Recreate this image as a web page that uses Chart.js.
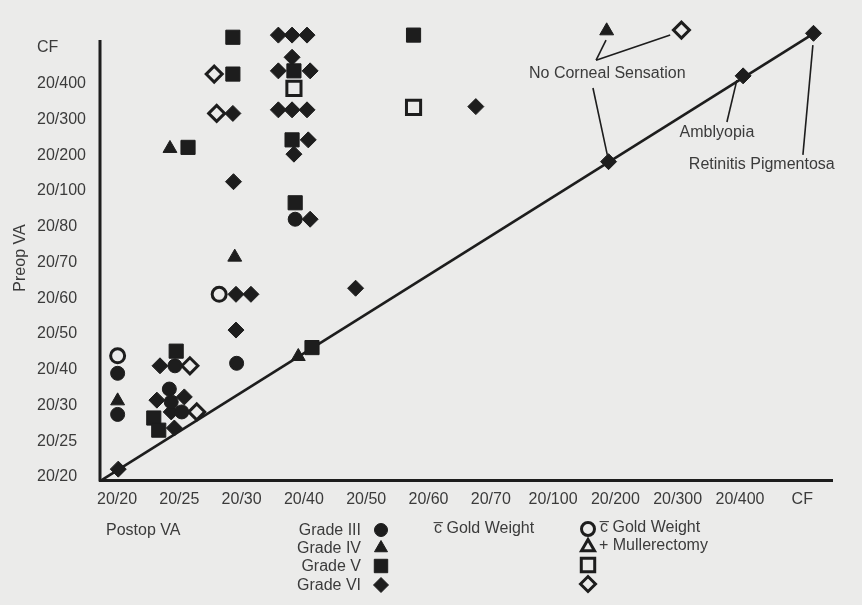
<!DOCTYPE html>
<html>
<head>
<meta charset="utf-8">
<script src="https://cdn.jsdelivr.net/npm/chart.js@4.4.1/dist/chart.umd.min.js"></script>
<style>
  html, body { margin: 0; padding: 0; background: #ebebea; }
  #wrap { width: 862px; height: 605px; }
</style>
</head>
<body>
<div id="wrap"><canvas id="chart" width="862" height="605"></canvas></div>
<script>
// axis categories (index 0 = 20/20)
const postopLabels = ['20/20', '20/25', '20/30', '20/40', '20/50', '20/60', '20/70', '20/100', '20/200', '20/300', '20/400', 'CF']
const preopLabels = ['20/20', '20/25', '20/30', '20/40', '20/50', '20/60', '20/70', '20/80', '20/100', '20/200', '20/300', '20/400', 'CF']

// [postop, preop] positions, in axis-index units
// gold weight only
const goldIII = [[0.01, 2.90], [0.01, 1.75], [2.86, 7.21], [1.92, 3.18], [0.93, 3.11], [0.84, 2.46], [0.87, 2.10], [1.04, 1.82]]
const goldIV = [[0.01, 2.13], [0.85, 9.19], [1.89, 6.15], [2.91, 3.37], [7.86, 12.48]]
const goldV = [[1.86, 12.30], [1.86, 11.27], [2.84, 11.36], [1.14, 9.22], [2.81, 9.43], [2.86, 7.67], [4.76, 12.36],
  [3.13, 3.62], [0.95, 3.52], [0.59, 1.65], [0.67, 1.31]]
const goldVI = [[2.59, 12.36], [2.81, 12.36], [3.05, 12.36], [2.81, 11.74], [2.59, 11.36], [3.10, 11.36], [1.86, 10.17],
  [2.59, 10.27], [2.81, 10.27], [3.05, 10.27], [3.07, 9.43], [2.84, 9.03], [1.87, 8.26], [3.10, 7.21], [1.91, 5.11],
  [2.15, 5.11], [1.91, 4.11], [3.83, 5.28], [5.76, 10.36], [0.69, 3.11], [0.64, 2.15], [1.08, 2.24], [0.87, 1.82],
  [0.92, 1.37], [0.02, 0.22], [7.89, 8.82], [10.05, 11.22], [11.18, 12.41]]
// gold weight + mullerectomy
const mullerIII = [[0.01, 3.39], [1.64, 5.11]]
const mullerIV = []
const mullerV = [[2.84, 10.87], [4.76, 10.34]]
const mullerVI = [[1.56, 11.27], [1.60, 10.17], [1.17, 3.11], [1.28, 1.82], [9.06, 12.50]]

// line of no change
const diagonal = [[-0.24, -0.08], [11.25, 12.48]]

// annotations
const noteTexts = ['No Corneal Sensation', 'Amblyopia', 'Retinitis Pigmentosa']
const notePos = [[7.87, 11.27], [9.63, 9.62], [10.35, 8.73]]
const noteLeaders = [
  [[7.69, 11.66], [7.85, 12.22]],
  [[7.69, 11.66], [8.88, 12.36]],
  [[7.64, 10.88], [7.87, 9.01]],
  [[9.79, 9.93], [9.95, 11.10]],
  [[11.01, 9.01], [11.17, 12.08]],
]

const gradeNames = ['Grade III', 'Grade IV', 'Grade V', 'Grade VI']
const mullerNames = ['c\u0305 Gold Weight', '+ Mullerectomy']

// top end of the printed preop axis
const yAxisTop = 12.224

const ink = '#1d1d1d'
const textInk = '#3b3b3b'
const paper = '#ebebea'
const font = '"Liberation Sans", Arial, sans-serif'
const styles = ['circle', 'triangle', 'rect', 'rectRot']
const radii = [7, 8, 10, 8]

Chart.defaults.font.family = font
Chart.defaults.font.size = 16
Chart.defaults.color = textInk

function toXY(arr) {
  return arr.map(p => ({x: p[0], y: p[1]}))
}

function markerSet(label, arr, grade, open) {
  return {
    label: label,
    data: toXY(arr),
    showLine: false,
    pointStyle: styles[grade],
    pointRadius: radii[grade],
    pointHoverRadius: radii[grade],
    pointBackgroundColor: open ? paper : ink,
    pointBorderColor: ink,
    pointBorderWidth: open ? 3 : 1,
    clip: false,
    order: 0,
  }
}

function drawMarker(ctx, grade, open, x, y) {
  ctx.save()
  ctx.fillStyle = open ? paper : ink
  ctx.strokeStyle = ink
  ctx.lineWidth = open ? 3 : 1
  Chart.helpers.drawPoint(ctx, {pointStyle: styles[grade], radius: radii[grade] - 0.5, rotation: 0, borderWidth: ctx.lineWidth}, x, y)
  ctx.restore()
}

const figureText = {
  id: 'figureText',
  beforeDatasetsDraw(chart) {
    // vertical axis stops short of the plot top, like the printed figure
    const {ctx, chartArea} = chart
    const ys = chart.scales.y
    ctx.save()
    ctx.strokeStyle = ink
    ctx.lineWidth = 3
    ctx.beginPath()
    ctx.moveTo(chartArea.left, ys.getPixelForValue(yAxisTop))
    ctx.lineTo(chartArea.left, chartArea.bottom + 1.5)
    ctx.stroke()
    ctx.restore()
  },
  afterDraw(chart) {
    const {ctx} = chart
    const xs = chart.scales.x
    const ys = chart.scales.y
    const px = p => [xs.getPixelForValue(p[0]), ys.getPixelForValue(p[1])]

    ctx.save()
    ctx.strokeStyle = ink
    ctx.lineWidth = 1.6
    for (const seg of noteLeaders) {
      const a = px(seg[0])
      const b = px(seg[1])
      ctx.beginPath()
      ctx.moveTo(a[0], a[1])
      ctx.lineTo(b[0], b[1])
      ctx.stroke()
    }

    ctx.fillStyle = textInk
    ctx.font = '16px ' + font
    ctx.textBaseline = 'middle'
    ctx.textAlign = 'center'
    noteTexts.forEach((t, i) => {
      const p = px(notePos[i])
      ctx.fillText(t, p[0], p[1])
    })

    // axis titles
    ctx.save()
    ctx.translate(21, 258)
    ctx.rotate(-Math.PI / 2)
    ctx.fillText('Preop VA', 0, 0)
    ctx.restore()
    ctx.textAlign = 'left'
    ctx.fillText('Postop VA', 106, 531)

    // legend
    const rows = [531, 549, 567, 586]
    ctx.textAlign = 'right'
    gradeNames.forEach((g, i) => {
      ctx.fillText(g, 361, rows[i])
      drawMarker(ctx, i, false, 381, rows[i] - 1)
    })
    ctx.textAlign = 'left'
    ctx.fillText(mullerNames[0], 434, 529)
    gradeNames.forEach((g, i) => {
      drawMarker(ctx, i, true, 588, rows[i] - 2)
    })
    ctx.fillText(mullerNames[0], 600, 528)
    ctx.fillText(mullerNames[1], 599, 546)
    ctx.restore()
  },
}

new Chart(document.getElementById('chart'), {
  type: 'scatter',
  data: {
    datasets: [
      {
        label: 'No change',
        type: 'line',
        data: toXY(diagonal),
        borderColor: ink,
        borderWidth: 2.6,
        pointRadius: 0,
        fill: false,
        clip: false,
        order: 10,
      },
      markerSet('Grade III', goldIII, 0, false),
      markerSet('Grade IV', goldIV, 1, false),
      markerSet('Grade V', goldV, 2, false),
      markerSet('Grade VI', goldVI, 3, false),
      markerSet('Grade III + Mullerectomy', mullerIII, 0, true),
      markerSet('Grade IV + Mullerectomy', mullerIV, 1, true),
      markerSet('Grade V + Mullerectomy', mullerV, 2, true),
      markerSet('Grade VI + Mullerectomy', mullerVI, 3, true),
    ],
  },
  options: {
    responsive: false,
    animation: false,
    devicePixelRatio: 1,
    layout: {padding: {left: 37, right: 30, top: 30, bottom: 80}},
    plugins: {legend: {display: false}, tooltip: {enabled: false}},
    scales: {
      x: {
        type: 'linear',
        min: -0.273,
        max: 11.477,
        grid: {display: false},
        border: {display: true, color: ink, width: 3},
        afterBuildTicks: s => { s.ticks = postopLabels.map((_, i) => ({value: i})) },
        afterFit: s => { s.height = 45 },
        ticks: {autoSkip: false, maxRotation: 0, padding: 2, callback: v => postopLabels[v]},
      },
      y: {
        type: 'linear',
        min: -0.084,
        max: 12.503,
        grid: {display: false},
        border: {display: false},
        afterBuildTicks: s => { s.ticks = preopLabels.map((_, i) => ({value: i})) },
        afterFit: s => { s.width = 63 },
        ticks: {autoSkip: false, crossAlign: 'far', callback: v => preopLabels[v]},
      },
    },
  },
  plugins: [figureText],
})
</script>
</body>
</html>
